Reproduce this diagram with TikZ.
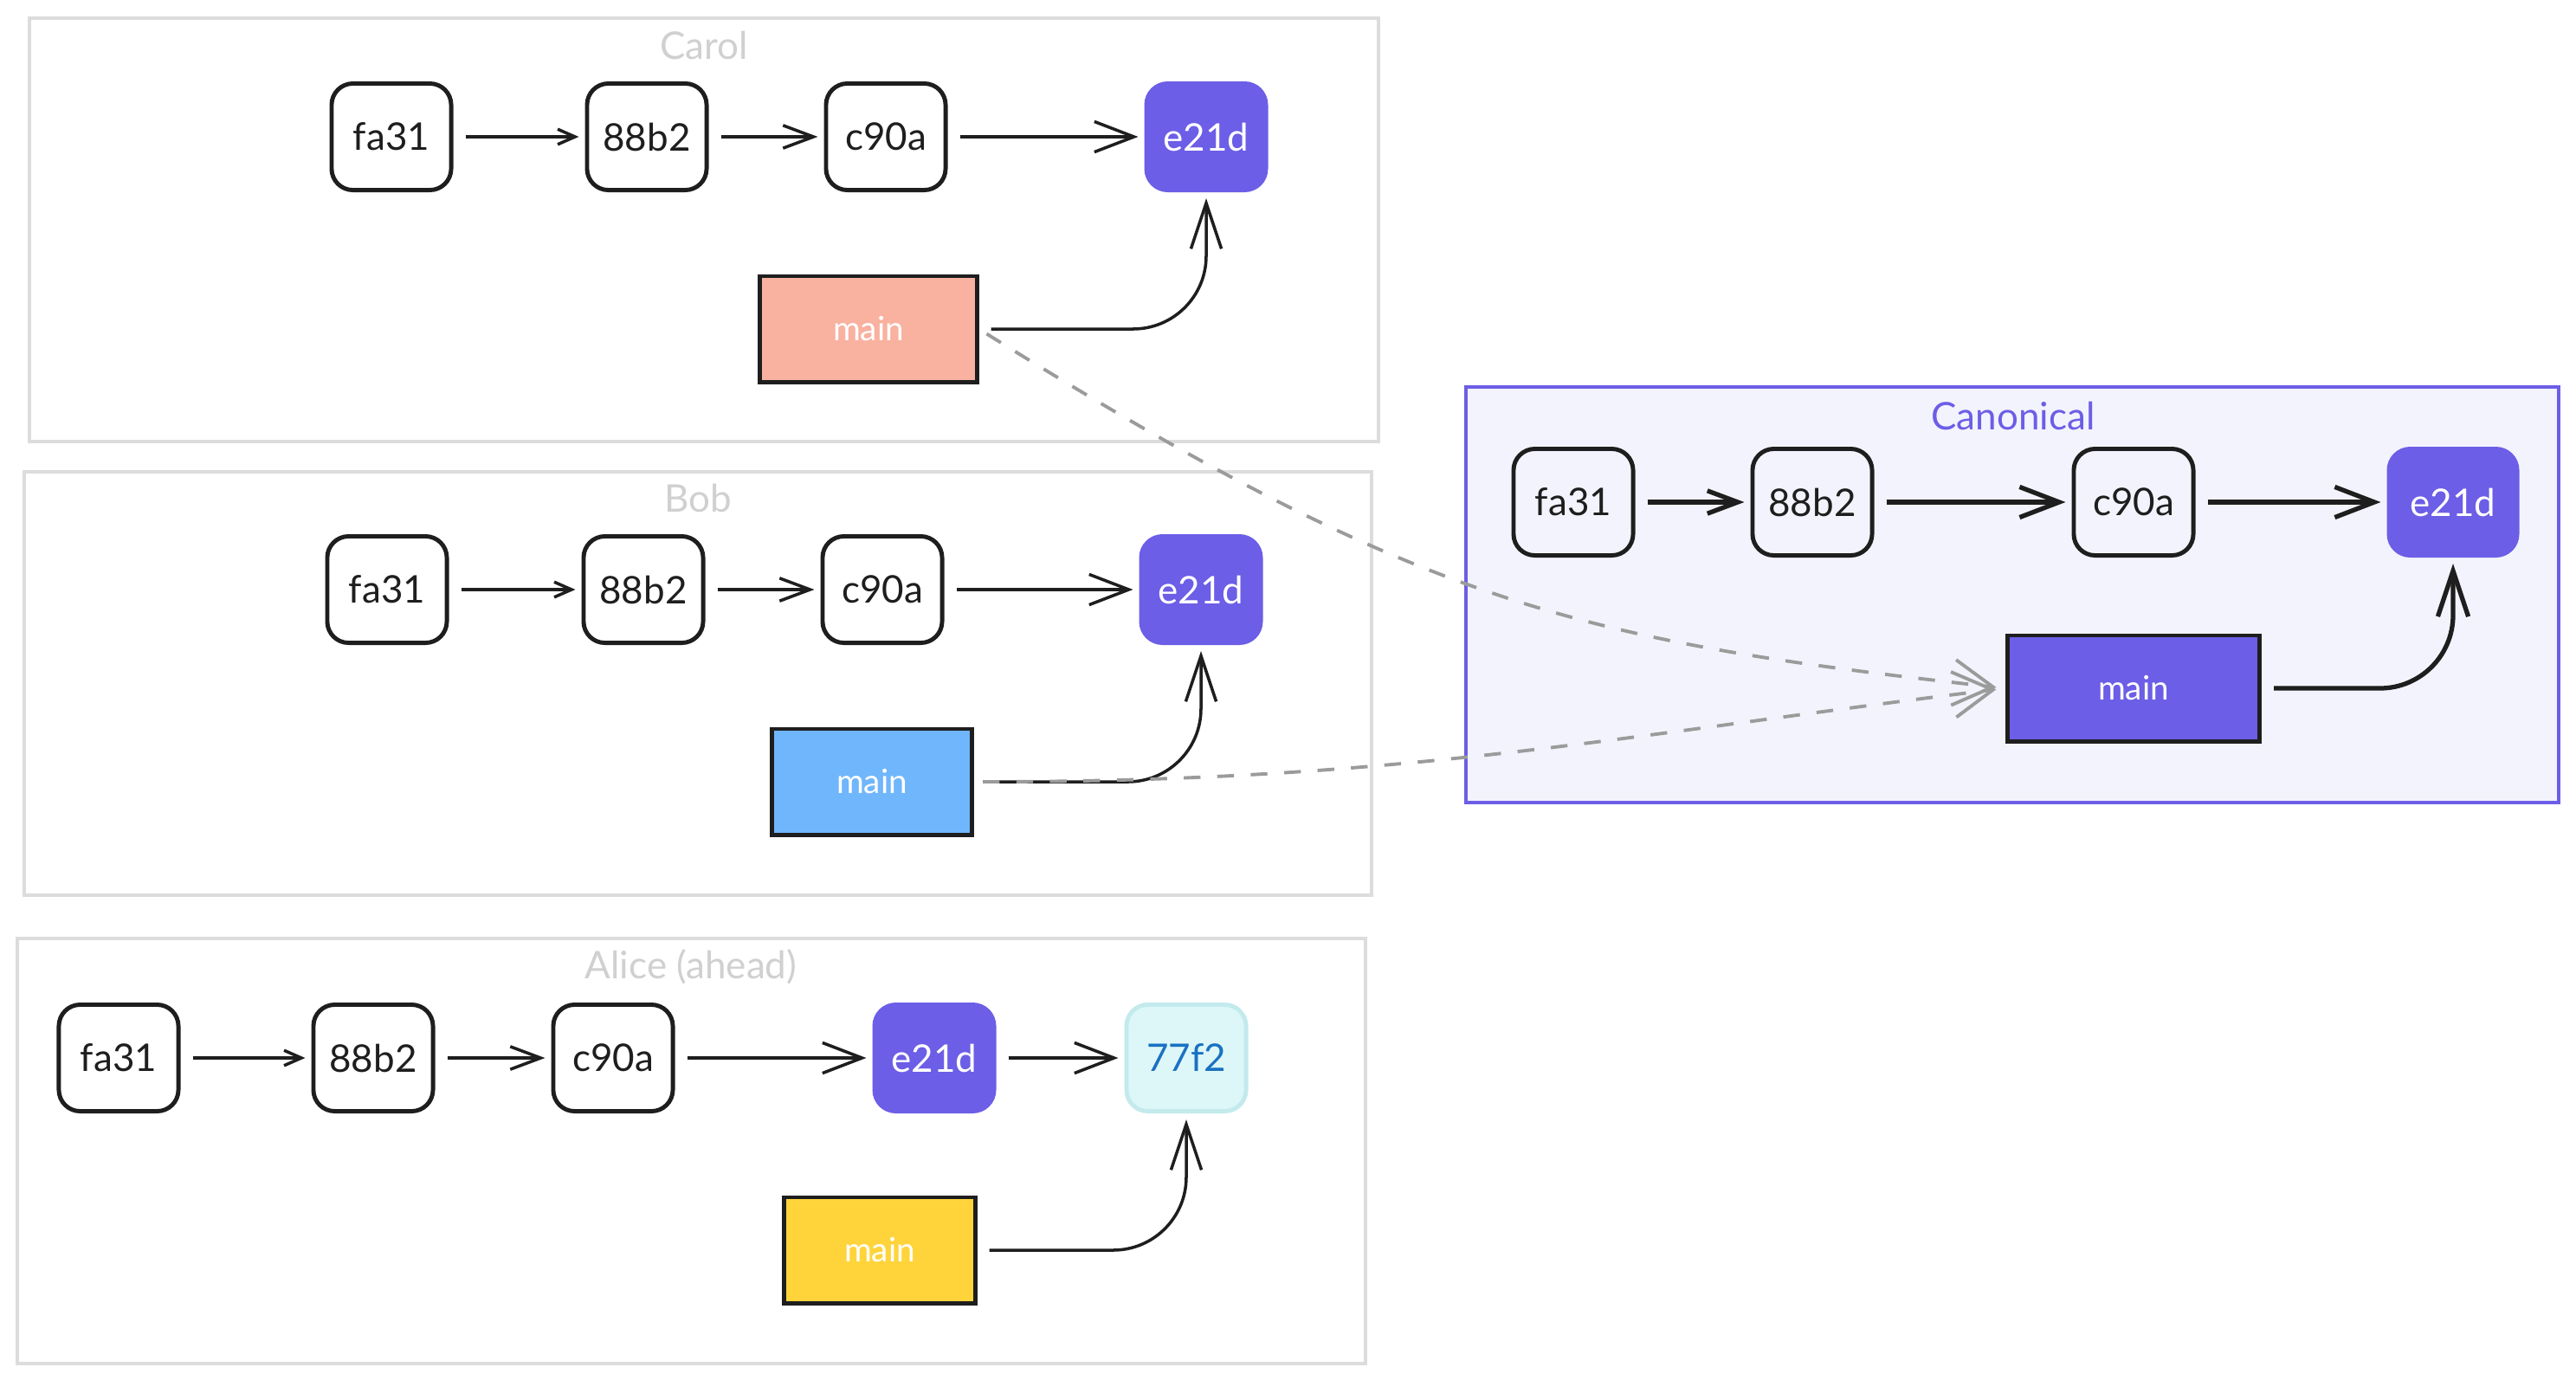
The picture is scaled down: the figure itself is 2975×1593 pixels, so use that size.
\documentclass[tikz,border=0pt]{standalone}
\usepackage{fontspec}
\setmainfont{Lato}
\usetikzlibrary{arrows.meta}
\definecolor{ink}{HTML}{1E1E1E}
\definecolor{vio}{RGB}{108,94,230}
\definecolor{canfill}{RGB}{243,243,253}
\definecolor{framegray}{RGB}{220,220,220}
\definecolor{lblgray}{RGB}{208,208,208}
\definecolor{carolfill}{RGB}{249,177,160}
\definecolor{bobfill}{RGB}{112,182,252}
\definecolor{alicefill}{RGB}{255,212,59}
\definecolor{newfill}{RGB}{221,247,248}
\definecolor{newdraw}{RGB}{195,234,237}
\definecolor{newtext}{RGB}{25,113,194}
\definecolor{dashgray}{RGB}{155,155,155}
\begin{document}
\begin{tikzpicture}[x=0.01cm,y=-0.01cm,
  commit/.style={draw=ink,line width=1.4pt,rounded corners=7pt,fill=white,
    minimum width=1.38cm,minimum height=1.23cm,inner sep=0pt,
    font=\fontsize{12.5}{14}\selectfont,text=ink},
  head/.style={commit,fill=vio,draw=vio,text=white},
  newc/.style={commit,fill=newfill,draw=newdraw,text=newtext},
  branch/.style={draw=ink,line width=1.4pt,minimum height=1.22cm,inner sep=0pt,
    text=white,font=\fontsize{11}{13}\selectfont},
  lbl/.style={font=\fontsize{12.5}{14}\selectfont,text=lblgray},
  frame/.style={draw=framegray,line width=1.1pt,fill=white},
  link/.style={draw=ink,line width=1pt,shorten <=4pt,shorten >=2pt},
  blink/.style={draw=ink,line width=1.5pt,shorten <=4pt,shorten >=2pt},
  tips/.style={-{Straight Barb[length=5.7pt,width=5pt]}},
  tipm/.style={-{Straight Barb[length=10pt,width=7.5pt]}},
  tipb/.style={-{Straight Barb[length=13pt,width=10pt]}},
  tipv/.style={-{Straight Barb[length=15pt,width=10pt]},rounded corners=24pt},
  dlink/.style={draw=dashgray,line width=1.1pt,dash pattern=on 5.5pt off 5.5pt,
    shorten <=3pt,shorten >=3pt,-{Straight Barb[length=13pt,width=15pt]}}
]
\fill[white] (0,0) rectangle (2975,1593);
\useasboundingbox (0,0) rectangle (2975,1593);

% frames
\draw[frame] (34,21) rectangle (1592,510);
\draw[frame] (28,545) rectangle (1584,1034);
\draw[frame] (20,1084) rectangle (1577,1575);
\draw[draw=vio,line width=1.1pt,fill=canfill] (1693,447) rectangle (2955,927);

% labels
\node[lbl] (carollbl) at (813,52) {Carol};
\node[lbl] (boblbl) at (806,575) {Bob};
\node[lbl] (alicelbl) at (798,1117) {Alice (ahead)};
\node[lbl,text=vio] (canlbl) at (2325,480) {Canonical};

% Carol
\node[commit] (cf) at (452,158) {fa31};
\node[commit] (c8) at (747,158) {88b2};
\node[commit] (cc) at (1023,158) {c90a};
\node[head]   (ce) at (1393,158) {e21d};
\node[branch,fill=carolfill,minimum width=2.5cm] (cm) at (1003,380) {main};

% Bob
\node[commit] (bf) at (447,681) {fa31};
\node[commit] (b8) at (743,681) {88b2};
\node[commit] (bc) at (1019,681) {c90a};
\node[head]   (be) at (1387,681) {e21d};
\node[branch,fill=bobfill,minimum width=2.3cm] (bm) at (1007,903) {main};

% Alice
\node[commit] (af) at (137,1222) {fa31};
\node[commit] (a8) at (431,1222) {88b2};
\node[commit] (ac) at (708,1222) {c90a};
\node[head]   (ae) at (1079,1222) {e21d};
\node[newc]   (a7) at (1370,1222) {77f2};
\node[branch,fill=alicefill,minimum width=2.2cm] (am) at (1016,1444) {main};

% Canonical
\node[commit,fill=canfill] (kf) at (1817,580) {fa31};
\node[commit,fill=canfill] (k8) at (2093,580) {88b2};
\node[commit,fill=canfill] (kc) at (2464,580) {c90a};
\node[head,minimum width=1.48cm] (ke) at (2833,580) {e21d};
\node[branch,fill=vio,minimum width=2.91cm] (km) at (2464,795) {main};

% Carol connectors
\draw[link,tips] (cf) -- (c8);
\draw[link,tipm] (c8) -- (cc);
\draw[link,tipb] (cc) -- (ce);
\draw[link,tipv] (cm.east) -| (ce.south);

% Bob connectors
\draw[link,tips] (bf) -- (b8);
\draw[link,tipm] (b8) -- (bc);
\draw[link,tipb] (bc) -- (be);
\draw[link,tipv] (bm.east) -| (be.south);

% Alice connectors
\draw[link,tips] (af) -- (a8);
\draw[link,tipm] (a8) -- (ac);
\draw[link,tipb] (ac) -- (ae);
\draw[link,tipb] (ae) -- (a7);
\draw[link,tipv] (am.east) -| (a7.south);

% Canonical connectors
\draw[blink,tipm] (kf) -- (k8);
\draw[blink,tipb] (k8) -- (kc);
\draw[blink,tipb] (kc) -- (ke);
\draw[blink,tipv] (km.east) -| (ke.south);

% dashed sync arrows
\draw[dlink] (cm.east) .. controls +(510,318) and +(-495,-55) .. (km.west);
\draw[dlink] (bm.east) .. controls +(500,0) and +(-445,54) .. (km.west);
\end{tikzpicture}
\end{document}
